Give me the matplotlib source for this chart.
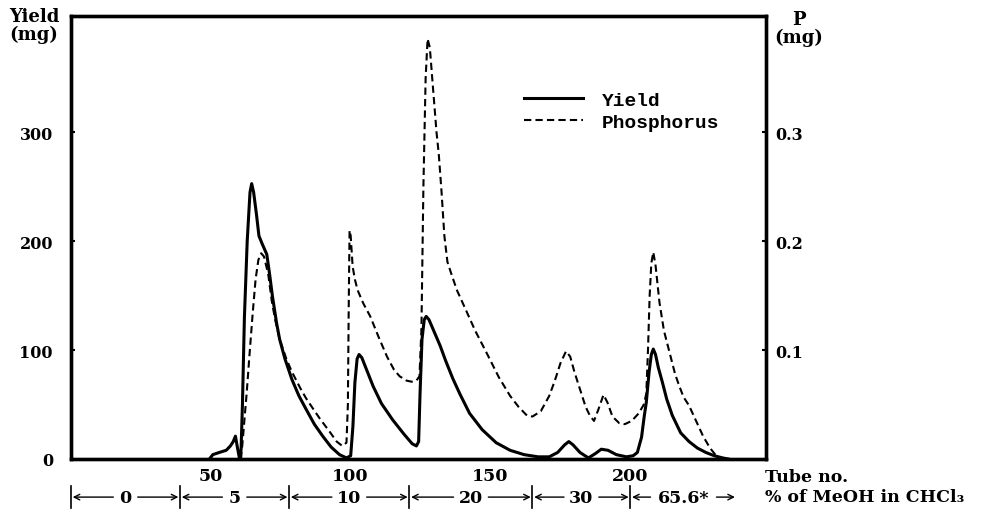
import matplotlib
matplotlib.use('Agg')
import matplotlib.pyplot as plt

# chromatography fractions: yield (mg) and phosphorus (mg) per tube
tube_yield = [49.5, 50.7, 53, 55.5, 57, 58, 58.8, 59.4, 60.2, 60.8, 61.3, 62, 63, 64, 64.6,
              65.3, 66.3, 67.2, 68.3, 70, 71, 72, 73.5, 74.6, 76.5, 79, 81.5, 84, 87, 90,
              93, 96, 98.5, 100, 100.8, 101.5, 102.3, 103, 104, 106, 108, 111, 115, 119, 122,
              123.5, 124.3, 124.8, 125.5, 126.3, 127, 128, 130, 132, 134, 136.5, 139, 142.5,
              147, 152, 157, 162, 167, 171, 174, 176.5, 178, 179.5, 182, 185, 187.5, 189.6,
              192, 195, 198.6, 201, 202.5, 204, 205, 205.7, 206.7, 207.5, 208.2, 209, 210,
              211.4, 213, 215, 218, 221, 224, 227, 230, 233, 235]
yield_mg = [0, 4, 6, 8, 12, 16, 21, 12, 1, 8, 50, 130, 200, 245, 253,
            245, 225, 205, 198, 188, 170, 150, 125, 110, 92, 73, 58, 46, 32, 21,
            11, 4, 1, 3, 30, 70, 92, 96, 93, 80, 67, 51, 36, 23, 14,
            12, 16, 60, 110, 128, 131, 128, 116, 104, 90, 74, 60, 42,
            27, 15, 8, 4, 2, 2, 6, 13, 16, 13, 6, 1, 5, 9,
            8, 4, 2, 3, 6, 20, 40, 52, 80, 96, 101, 96, 84,
            71, 55, 40, 24, 16, 10, 6, 3, 1, 0]

tube_p = [60.8, 61.5, 62.3, 62.8, 63.8, 65, 66, 67, 68, 69, 70.5, 71.8, 73, 74.6, 77, 79,
          82, 84, 86.6, 89, 92.5, 95, 97, 98.5, 99, 99.3, 99.6, 100, 100.7, 101.5, 102.5,
          104.5, 107, 110, 113, 115.5, 117.5, 120, 121.8, 123.5, 124.6, 125.3, 126, 126.8,
          127.5, 128.3, 129.4, 130.7, 131.5, 132.5, 133.5, 134.6, 136, 138, 141, 144.5,
          148.5, 153, 157, 160, 163, 165, 168, 171, 173, 175, 177, 178.5, 180, 182, 184,
          185.5, 187, 188.5, 190.4, 191.8, 193.6, 196, 198, 200.5, 203, 204.8, 205.7,
          206.3, 206.9, 207.5, 208.2, 209, 210.4, 212, 214, 216, 217.5, 219, 221, 223.5,
          226, 228.5, 230.7, 232]
phos_mg = [0, 0.02, 0.045, 0.06, 0.095, 0.135, 0.165, 0.183, 0.189, 0.186, 0.17, 0.145,
           0.128, 0.11, 0.092, 0.08, 0.065, 0.056, 0.046, 0.037, 0.025, 0.016, 0.012, 0.015,
           0.05, 0.14, 0.21, 0.205, 0.177, 0.165, 0.155, 0.143, 0.131, 0.112, 0.094, 0.082,
           0.076, 0.072, 0.071, 0.072, 0.076, 0.12, 0.25, 0.35, 0.386, 0.378, 0.342, 0.30,
           0.28, 0.245, 0.205, 0.181, 0.17, 0.155, 0.138, 0.118, 0.098, 0.075, 0.058, 0.048,
           0.04, 0.039, 0.044, 0.058, 0.072, 0.088, 0.099, 0.094, 0.08, 0.064, 0.048, 0.04,
           0.035, 0.045, 0.059, 0.052, 0.039, 0.033, 0.032, 0.035, 0.042, 0.05, 0.06, 0.1,
           0.15, 0.18, 0.19, 0.178, 0.144, 0.118, 0.098, 0.078, 0.067, 0.057, 0.049, 0.035,
           0.021, 0.01, 0.003, 0]

# solvent steps (% MeOH in CHCl3) along the tube axis
step_edges = [0, 39, 78, 121, 165, 200, 238]
step_labels = ['0', '5', '10', '20', '30', '65.6*']

serif = ['DejaVu Serif']
mono = ['Liberation Mono', 'DejaVu Sans Mono']

fig = plt.figure(figsize=(9.83, 5.10), dpi=100)
ax = fig.add_axes([71/983, 1-460/510, 695/983, 443/510])
ax2 = ax.twinx()

ax.plot(tube_yield, yield_mg, color='black', lw=2.2, label='Yield')
ax2.plot(tube_p, phos_mg, color='black', lw=1.5, linestyle=(0, (3.5, 2)), label='Phosphorus')

ax.set_xlim(0, 248.5)
ax.set_ylim(0, 407)
ax2.set_ylim(0, 0.407)
ax.set_xticks([50, 100, 150, 200])
ax.set_yticks([0, 100, 200, 300])
ax2.set_yticks([0.1, 0.2, 0.3])
ax2.set_yticklabels(['0.1', '0.2', '0.3'])

for a in (ax, ax2):
    for s in a.spines.values():
        s.set_linewidth(2.4)
ax.tick_params(axis='y', direction='in', length=3, width=1.5, pad=13)
ax.tick_params(axis='x', direction='in', length=0, pad=6)
ax2.tick_params(axis='y', direction='in', length=3, width=1.5, pad=7)
for lab in ax.get_yticklabels() + ax2.get_yticklabels():
    lab.set_family(serif)
    lab.set_fontweight('bold')
    lab.set_fontsize(11.5)
for lab in ax.get_xticklabels():
    lab.set_family(serif)
    lab.set_fontweight('bold')
    lab.set_fontsize(12.5)

# axis titles
fig.text(34/983, 1-26/510, 'Yield\n(mg)', ha='center', va='center', family=serif,
         fontweight='bold', fontsize=13, linespacing=0.95)
fig.text(799/983, 1-29/510, 'P\n(mg)', ha='center', va='center', family=serif,
         fontweight='bold', fontsize=13, linespacing=0.95)

# legend
h1, l1 = ax.get_legend_handles_labels()
h2, l2 = ax2.get_legend_handles_labels()
leg = ax2.legend(h1 + h2, l1 + l2, loc='upper left', bbox_to_anchor=(0.627, 0.87),
                 frameon=False, handlelength=3.0, handletextpad=1.0, labelspacing=0.25,
                 prop={'family': mono, 'weight': 'bold', 'size': 14})

# bottom labels
fig.text(765/983, 1-478/510, 'Tube no.', ha='left', va='center', family=serif,
         fontweight='bold', fontsize=12.5)
fig.text(765/983, 1-498/510, '% of MeOH in CHCl\u2083', ha='left', va='center',
         family=serif, fontweight='bold', fontsize=12.5)

# solvent step arrows
tr = ax.get_xaxis_transform()
yrow = -0.086
for i, lab in enumerate(step_labels):
    a, b = step_edges[i], step_edges[i + 1]
    mid = (a + b) / 2
    ax.text(mid, yrow, lab, transform=tr, ha='center', va='center', family=serif,
            fontweight='bold', fontsize=12.5, clip_on=False)
    gap = (7 + 5.2 * len(lab)) / 2.8
    ax.annotate('', xy=(a + 0.6, yrow), xytext=(mid - gap, yrow), xycoords=tr, textcoords=tr,
                arrowprops=dict(arrowstyle='->', lw=1.0, color='black', shrinkA=0, shrinkB=0))
    ax.annotate('', xy=(b - 0.6, yrow), xytext=(mid + gap, yrow), xycoords=tr, textcoords=tr,
                arrowprops=dict(arrowstyle='->', lw=1.0, color='black', shrinkA=0, shrinkB=0))
for e in step_edges[:-1]:
    ax.plot([e, e], [yrow - 0.025, yrow + 0.025], transform=tr, color='black', lw=1.2,
            clip_on=False)

fig.savefig('out.png', dpi=100)
